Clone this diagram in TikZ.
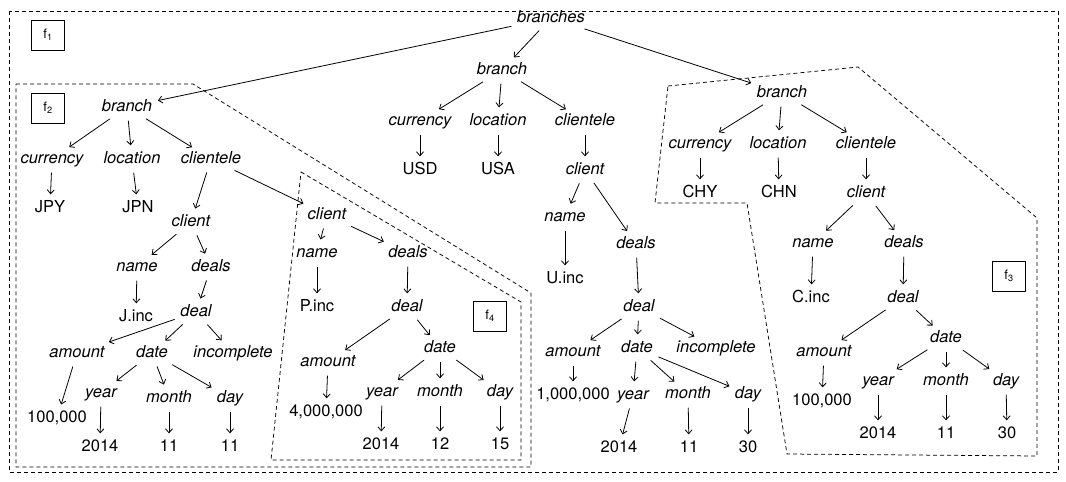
\documentclass[tikz,border=0pt]{standalone}
\usepackage{fontspec}
\setmainfont{TeX Gyre Heros}
\usetikzlibrary{arrows.meta}

\begin{document}
\begin{tikzpicture}[x=1pt, y=-1pt, >={Straight Barb[length=4pt,width=7pt]}, thick,
    elem/.style={font=\fontsize{16.5}{18}\selectfont\itshape, inner sep=1.5pt, text height=12pt, text depth=3.5pt},
    val/.style={font=\fontsize{16.5}{18}\selectfont, inner sep=1.5pt, text height=12pt, text depth=3.5pt},
    flabel/.style={draw, semithick, minimum width=33pt, minimum height=30pt, font=\fontsize{13}{15}\selectfont},
    fragment/.style={line width=0.75pt, dash pattern=on 4pt off 3pt},
    link/.style={->, shorten >=4pt, shorten <=4pt}]

    \useasboundingbox (0,0) rectangle (1066,482);

    \draw[fragment] (9,11) rectangle (1058,472);
    \draw[fragment] (16,84) -- (193,84) -- (531,293) -- (531,467) -- (16,467) -- cycle;
    \draw[fragment] (301,172) -- (521,302) -- (521,460) -- (271,460) -- cycle;
    \draw[fragment] (668,86) -- (858,67) -- (1037,218) -- (1037,456) -- (787,454) -- (747,203) -- (655,203) -- cycle;

    \node[flabel]   (f1)        at (48,35)      {f\textsubscript{1}};
    \node[flabel]   (f2)        at (48,108)     {f\textsubscript{2}};
    \node[flabel]   (f3)        at (1009,276)   {f\textsubscript{3}};
    \node[flabel]   (f4)        at (490,316)    {f\textsubscript{4}};

    \node[elem]     (root)      at (551,18)     {branches};

    \node[elem]     (usbr)      at (502,70)     {branch};
    \node[elem]     (uscur)     at (420,121)    {currency};
    \node[elem]     (usloc)     at (498,121)    {location};
    \node[elem]     (uscli)     at (585,121)    {clientele};
    \node[val]      (usd)       at (420,170)    {USD};
    \node[val]      (usa)       at (498,170)    {USA};
    \node[elem]     (usclient)  at (585,170)    {client};
    \node[elem]     (usname)    at (565,217)    {name};
    \node[elem]     (usdeals)   at (636,244)    {deals};
    \node[val]      (usinc)     at (565,279)    {U.inc};
    \node[elem]     (usdeal)    at (639,307)    {deal};
    \node[elem]     (usamt)     at (573,352)    {amount};
    \node[elem]     (usdate)    at (637,348)    {date};
    \node[elem]     (usinco)    at (716,348)    {incomplete};
    \node[val]      (usamtv)    at (573,395)    {1,000,000};
    \node[elem]     (usyear)    at (633,395)    {year};
    \node[elem]     (usmonth)   at (688,394)    {month};
    \node[elem]     (usday)     at (748,394)    {day};
    \node[val]      (usyearv)   at (619,448)    {2014};
    \node[val]      (usmonthv)  at (689,448)    {11};
    \node[val]      (usdayv)    at (748,448)    {30};

    \node[elem]     (jpbr)      at (127,107)    {branch};
    \node[elem]     (jpcur)     at (52,159)     {currency};
    \node[elem]     (jploc)     at (132,159)    {location};
    \node[elem]     (jpcli)     at (211,159)    {clientele};
    \node[val]      (jpy)       at (50,208)     {JPY};
    \node[val]      (jpn)       at (138,208)    {JPN};
    \node[elem]     (jpclient)  at (191,222)    {client};
    \node[elem]     (jpname)    at (137,267)    {name};
    \node[elem]     (jpdeals)   at (211,267)    {deals};
    \node[val]      (jpinc)     at (136,317)    {J.inc};
    \node[elem]     (jpdeal)    at (196,312)    {deal};
    \node[elem]     (jpamt)     at (77,353)     {amount};
    \node[elem]     (jpdate)    at (152,353)    {date};
    \node[elem]     (jpinco)    at (233,353)    {incomplete};
    \node[elem]     (jpyear)    at (101,393)    {year};
    \node[elem]     (jpmonth)   at (169,398)    {month};
    \node[elem]     (jpday)     at (230,398)    {day};
    \node[val]      (jpamtv)    at (57,418)     {100,000};
    \node[val]      (jpyearv)   at (100,447)    {2014};
    \node[val]      (jpmonthv)  at (169,447)    {11};
    \node[val]      (jpdayv)    at (230,447)    {11};

    \node[elem]     (pclient)   at (327,215)    {client};
    \node[elem]     (pname)     at (317,253)    {name};
    \node[elem]     (pdeals)    at (408,253)    {deals};
    \node[val]      (pinc)      at (317,307)    {P.inc};
    \node[elem]     (pdeal)     at (407,307)    {deal};
    \node[elem]     (pamt)      at (328,362)    {amount};
    \node[elem]     (pdate)     at (440,348)    {date};
    \node[val]      (pamtv)     at (326,412)    {4,000,000};
    \node[elem]     (pyear)     at (382,392)    {year};
    \node[elem]     (pmonth)    at (440,392)    {month};
    \node[elem]     (pday)      at (500,392)    {day};
    \node[val]      (pyearv)    at (381,445)    {2014};
    \node[val]      (pmonthv)   at (440,445)    {12};
    \node[val]      (pdayv)     at (500,445)    {15};

    \node[elem]     (cnbr)      at (782,93)     {branch};
    \node[elem]     (cncur)     at (700,144)    {currency};
    \node[elem]     (cnloc)     at (778,144)    {location};
    \node[elem]     (cncli)     at (866,144)    {clientele};
    \node[val]      (chy)       at (700,193)    {CHY};
    \node[val]      (chn)       at (779,193)    {CHN};
    \node[elem]     (cnclient)  at (866,193)    {client};
    \node[elem]     (cnname)    at (813,243)    {name};
    \node[elem]     (cndeals)   at (904,243)    {deals};
    \node[val]      (cninc)     at (811,298)    {C.inc};
    \node[elem]     (cndeal)    at (903,298)    {deal};
    \node[elem]     (cnamt)     at (824,352)    {amount};
    \node[elem]     (cndate)    at (946,338)    {date};
    \node[val]      (cnamtv)    at (822,401)    {100,000};
    \node[elem]     (cnyear)    at (878,381)    {year};
    \node[elem]     (cnmonth)   at (946,381)    {month};
    \node[elem]     (cnday)     at (1006,381)   {day};
    \node[val]      (cnyearv)   at (878,434)    {2014};
    \node[val]      (cnmonthv)  at (946,434)    {11};
    \node[val]      (cndayv)    at (1007,434)   {30};

    \path[link] (root)      edge (usbr)
                            edge (jpbr)
                            edge (cnbr)
                (usbr)      edge (uscur)
                            edge (usloc)
                            edge (uscli)
                (uscur)     edge (usd)
                (usloc)     edge (usa)
                (uscli)     edge (usclient)
                (usclient)  edge (usname)
                            edge (usdeals)
                (usname)    edge (usinc)
                (usdeals)   edge (usdeal)
                (usdeal)    edge (usamt)
                            edge (usdate)
                            edge (usinco)
                (usamt)     edge (usamtv)
                (usdate)    edge (usyear)
                            edge (usmonth)
                            edge (usday)
                (usyear)    edge (usyearv)
                (usmonth)   edge (usmonthv)
                (usday)     edge (usdayv);

    \path[link] (jpbr)      edge (jpcur)
                            edge (jploc)
                            edge (jpcli)
                (jpcur)     edge (jpy)
                (jploc)     edge (jpn)
                (jpcli)     edge (jpclient)
                            edge (pclient)
                (jpclient)  edge (jpname)
                            edge (jpdeals)
                (jpname)    edge (jpinc)
                (jpdeals)   edge (jpdeal)
                (jpdeal)    edge (jpamt)
                            edge (jpdate)
                            edge (jpinco)
                (jpamt)     edge (jpamtv)
                (jpdate)    edge (jpyear)
                            edge (jpmonth)
                            edge (jpday)
                (jpyear)    edge (jpyearv)
                (jpmonth)   edge (jpmonthv)
                (jpday)     edge (jpdayv);

    \path[link] (pclient)   edge (pname)
                            edge (pdeals)
                (pname)     edge (pinc)
                (pdeals)    edge (pdeal)
                (pdeal)     edge (pamt)
                            edge (pdate)
                (pamt)      edge (pamtv)
                (pdate)     edge (pyear)
                            edge (pmonth)
                            edge (pday)
                (pyear)     edge (pyearv)
                (pmonth)    edge (pmonthv)
                (pday)      edge (pdayv);

    \path[link] (cnbr)      edge (cncur)
                            edge (cnloc)
                            edge (cncli)
                (cncur)     edge (chy)
                (cnloc)     edge (chn)
                (cncli)     edge (cnclient)
                (cnclient)  edge (cnname)
                            edge (cndeals)
                (cnname)    edge (cninc)
                (cndeals)   edge (cndeal)
                (cndeal)    edge (cnamt)
                            edge (cndate)
                (cnamt)     edge (cnamtv)
                (cndate)    edge (cnyear)
                            edge (cnmonth)
                            edge (cnday)
                (cnyear)    edge (cnyearv)
                (cnmonth)   edge (cnmonthv)
                (cnday)     edge (cndayv);
\end{tikzpicture}
\end{document}
